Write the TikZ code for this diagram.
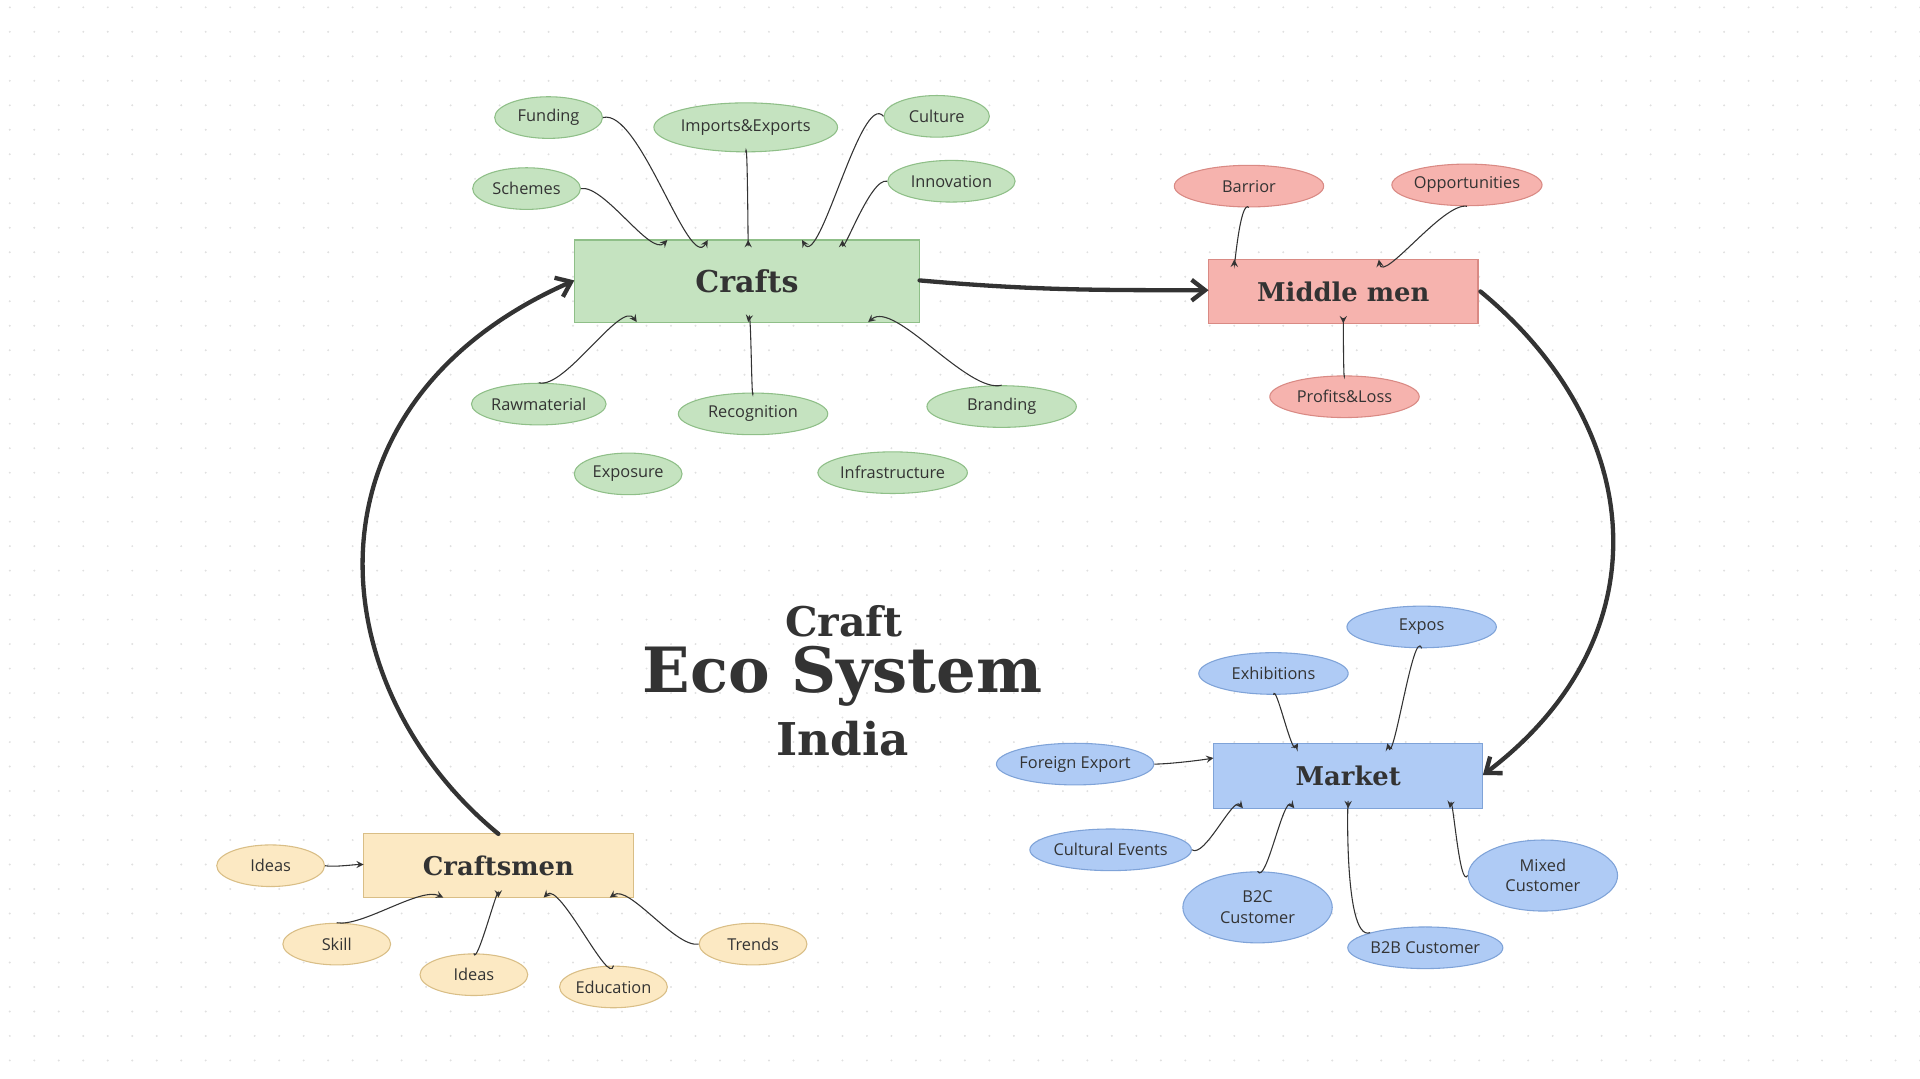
\documentclass[tikz,border=0pt]{standalone}
\usepackage{fontspec}
\setmainfont{Open Sans}
\newfontfamily\headfont{DejaVu Serif}
\usetikzlibrary{shapes.geometric,arrows.meta}
\definecolor{gfill}{HTML}{C5E3C0}\definecolor{gline}{HTML}{8FBF88}
\definecolor{rfill}{HTML}{F6B3AE}\definecolor{rline}{HTML}{D98A84}
\definecolor{yfill}{HTML}{FCE9C3}\definecolor{yline}{HTML}{D9BE86}
\definecolor{bfill}{HTML}{AFCBF5}\definecolor{bline}{HTML}{7FA3D8}
\definecolor{ink}{HTML}{333333}
\begin{document}
\begin{tikzpicture}[x=0.2mm,y=-0.2mm,
 el/.style={ellipse,draw,line width=0.5pt,inner sep=0pt,font=\fontsize{7.6}{9.5}\selectfont,text=ink,align=center},
 G/.style={el,fill=gfill,draw=gline},
 R/.style={el,fill=rfill,draw=rline},
 Y/.style={el,fill=yfill,draw=yline},
 B/.style={el,fill=bfill,draw=bline},
 box/.style={rectangle,draw,line width=0.5pt,inner sep=0pt,text=ink,font=\headfont\bfseries\fontsize{12}{14}\selectfont},
 thin/.style={-stealth,draw=ink,line width=0.5pt,looseness=0.6},
 thick/.style={-{Straight Barb[length=2.2mm,width=3.4mm]},draw=ink,line width=2pt,line cap=round}]
\useasboundingbox (0,0) rectangle (1568,881);
\foreach \i in {0,...,78}{\foreach \j in {0,...,44}{\fill[black!12] (\i*20+8,\j*20+6) circle (0.9);}}
% boxes
\node[box,fill=gfill,draw=gline,minimum width=56.4mm,minimum height=13.4mm,font=\headfont\bfseries\fontsize{14}{16}\selectfont] (crafts) at (610,229.5) {Crafts};
\node[box,fill=rfill,draw=rline,minimum width=44mm,minimum height=10.4mm] (mid) at (1097,238) {Middle men};
\node[box,fill=bfill,draw=bline,minimum width=44mm,minimum height=10.6mm] (market) at (1101,633.5) {Market};
\node[box,fill=yfill,draw=yline,minimum width=44mm,minimum height=10.4mm] (men) at (407,707) {Craftsmen};
% ellipses
\node[G,minimum width=17.6mm,minimum height=6.8mm] (funding) at (448,96) {Funding};
\node[G,minimum width=30mm,minimum height=8mm] (imports) at (609,104) {Imports\&Exports};
\node[G,minimum width=17.2mm,minimum height=6.8mm] (culture) at (765,95) {Culture};
\node[G,minimum width=17.6mm,minimum height=6.8mm] (schemes) at (430,154) {Schemes};
\node[G,minimum width=20.8mm,minimum height=6.8mm] (innov) at (777,148) {Innovation};
\node[G,minimum width=20.8mm,minimum height=6.8mm] (raw) at (440,330) {Rawmaterial};
\node[G,minimum width=24.4mm,minimum height=6.8mm] (recog) at (615,338) {Recognition};
\node[G,minimum width=24.4mm,minimum height=6.8mm] (brand) at (818,332) {Branding};
\node[G,minimum width=17.6mm,minimum height=6.8mm] (expo) at (513,387) {Exposure};
\node[G,minimum width=24.4mm,minimum height=6.8mm] (infra) at (729,386) {Infrastructure};
\node[R,minimum width=24.4mm,minimum height=6.8mm] (barr) at (1020,152) {Barrior};
\node[R,minimum width=24.4mm,minimum height=6.8mm] (opp) at (1198,151) {Opportunities};
\node[R,minimum width=24.4mm,minimum height=6.8mm] (pl) at (1098,324) {Profits\&Loss};
\node[B,minimum width=24.4mm,minimum height=6.8mm] (expos) at (1161,512) {Expos};
\node[B,minimum width=24.4mm,minimum height=6.8mm] (exh) at (1040,550) {Exhibitions};
\node[B,minimum width=24.4mm,minimum height=6.8mm] (fe) at (878,624) {Foreign Export};
\node[B,minimum width=25.6mm,minimum height=6.8mm] (ce) at (907,694) {Cultural Events};
\node[B,minimum width=24.4mm,minimum height=11.6mm] (b2c) at (1027,741) {B2C\\Customer};
\node[B,minimum width=24.4mm,minimum height=6.8mm] (b2b) at (1164,774) {B2B Customer};
\node[B,minimum width=24.4mm,minimum height=11.6mm] (mixed) at (1260,715) {Mixed\\Customer};
\node[Y,minimum width=17.6mm,minimum height=6.8mm] (idl) at (221,707) {Ideas};
\node[Y,minimum width=17.6mm,minimum height=6.8mm] (skill) at (275,771) {Skill};
\node[Y,minimum width=17.6mm,minimum height=6.8mm] (ideas) at (387,796) {Ideas};
\node[Y,minimum width=17.6mm,minimum height=6.8mm] (edu) at (501,806) {Education};
\node[Y,minimum width=17.6mm,minimum height=6.8mm] (trends) at (615,771) {Trends};
% title
\node[text=ink,font=\headfont\bfseries\fontsize{19}{20}\selectfont] (t1) at (689,507) {Craft};
\node[text=ink,font=\headfont\bfseries\fontsize{29}{30}\selectfont] (t2) at (688,552) {Eco System};
\node[text=ink,font=\headfont\bfseries\fontsize{21}{22}\selectfont] (t3) at (688,603) {India};
% anchor points on boxes
\coordinate (c1) at (578,196);\coordinate (c2) at (611,196);\coordinate (c3) at (655,196);
\coordinate (c4) at (545,196);\coordinate (c5) at (688,196);
\coordinate (c6) at (520,263);\coordinate (c7) at (611,263);\coordinate (c8) at (709,263);
\coordinate (m1) at (1008,212);\coordinate (m2) at (1126,212);\coordinate (m3) at (1097,264);
\coordinate (k1) at (1133,607);\coordinate (k2) at (1060,607);\coordinate (k3) at (991,619);
\coordinate (k4) at (1015,660);\coordinate (k5) at (1057,660);\coordinate (k6) at (1101,660);\coordinate (k7) at (1184,660);
\coordinate (y1) at (297,706);\coordinate (y2) at (362,733);\coordinate (y3) at (407,733);
\coordinate (y4) at (444,733);\coordinate (y5) at (498,733);
\coordinate (a1) at (751,229);\coordinate (a2) at (987,237);
\coordinate (a3) at (1209,238);\coordinate (a4) at (1211,633);
\coordinate (a5) at (407,681);\coordinate (a6) at (469,229);
% thin arrows
\draw[thin] (funding.east) to[out=15,in=-120] (c1);
\draw[thin] (imports.south) to[out=85,in=-90] (c2);
\draw[thin] (culture.west) to[out=130,in=-60] (c3);
\draw[thin] (schemes.east) to[out=10,in=-135] (c4);
\draw[thin] (innov.west) to[out=165,in=-90] (c5);
\draw[thin] (raw.north) to[out=-15,in=125] (c6);
\draw[thin] (recog.north) to[out=-95,in=80] (c7);
\draw[thin] (brand.north) to[out=195,in=40] (c8);
\draw[thin] (barr.south) to[out=135,in=-90] (m1);
\draw[thin] (opp.south) to[out=170,in=-80] (m2);
\draw[thin] (pl.north) to[out=-95,in=90] (m3);
\draw[thin] (expos.south) to[out=110,in=-75] (k1);
\draw[thin] (exh.south) to[out=80,in=-120] (k2);
\draw[thin] (fe.east) to[out=0,in=190] (k3);
\draw[thin] (ce.east) to[out=-35,in=130] (k4);
\draw[thin] (b2c.north) to[out=-60,in=130] (k5);
\draw[thin] (b2b.north west) to[out=-160,in=90] (k6);
\draw[thin] (mixed.west) to[out=-120,in=80] (k7);
\draw[thin] (idl.east) to[out=-10,in=180] (y1);
\draw[thin] (skill.north) to[out=-10,in=155] (y2);
\draw[thin] (ideas.north) to[out=-80,in=90] (y3);
\draw[thin] (edu.north) to[out=-100,in=45] (y4);
\draw[thin] (trends.west) to[out=190,in=35] (y5);
% thick arrows
\draw[thick] (a1) to[out=-5,in=180] (a2);
\draw[thick] (a3) .. controls (1345,350) and (1360,520) .. (a4);
\draw[thick] (a5) .. controls (260,560) and (240,330) .. (a6);
\end{tikzpicture}
\end{document}
